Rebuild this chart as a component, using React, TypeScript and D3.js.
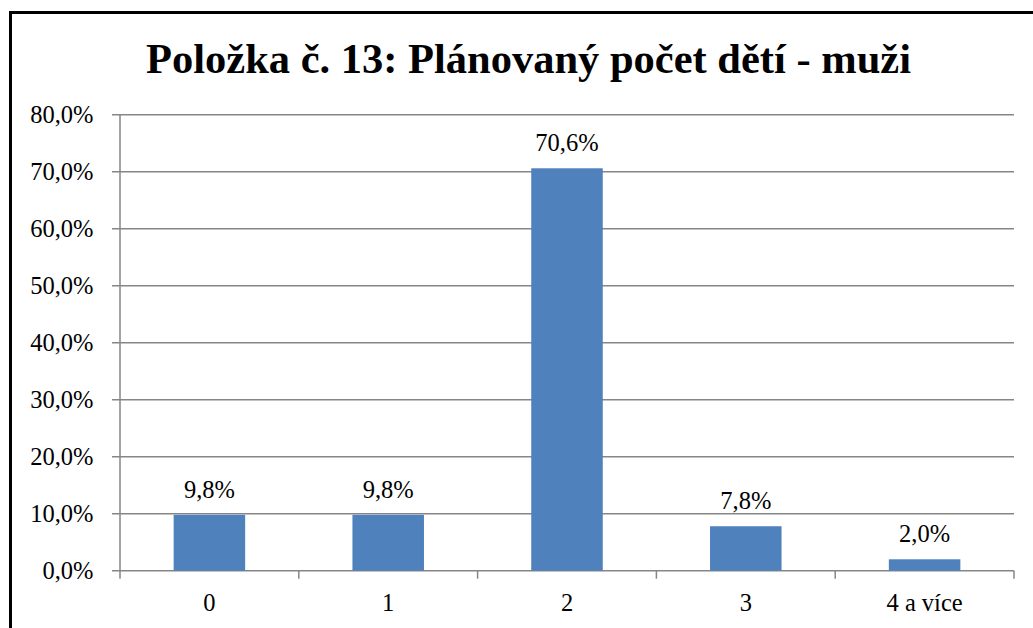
import React from "react";
import * as d3 from "d3";

const categories = ["0", "1", "2", "3", "4 a více"];
const values = [9.8, 9.8, 70.6, 7.8, 2.0];
const yTicks = [0, 10, 20, 30, 40, 50, 60, 70, 80];
const title = "Položka č. 13: Plánovaný počet dětí - muži";

const fmt = (v: number) => v.toFixed(1).replace(".", ",") + "%";

export default function App() {
  const W = 1033, H = 628;
  const left = 120, right = 1014, top = 114.7, bottom = 570.7;
  const x = d3.scaleBand<string>().domain(categories).range([left, right]).paddingInner(0.6).paddingOuter(0.3);
  const xb = d3.scaleBand<string>().domain(categories).range([left, right]);
  const y = d3.scaleLinear().domain([0, 80]).range([bottom, top]);
  const font = "'Liberation Serif', 'Times New Roman', serif";
  return (
    <svg width={W} height={H} style={{ position: "absolute", left: 0, top: 0, background: "#fff" }}>
      <rect x={0} y={0} width={W} height={H} fill="#fff" />
      <rect x={10.5} y={12.5} width={W + 20} height={H + 20} fill="none" stroke="#000" strokeWidth={3} />
      <text x={528.5} y={73} textAnchor="middle" fontFamily={font} fontWeight="bold" fontSize={42.5} fill="#000">
        {title}
      </text>
      {yTicks.map((t) => (
        <g key={t}>
          <line x1={left - 8} x2={right} y1={y(t)} y2={y(t)} stroke="#868686" strokeWidth={1.5} />
          <text x={93.5} y={y(t)} dy="0.35em" textAnchor="end" fontFamily={font} fontSize={24.5} fill="#000">
            {fmt(t)}
          </text>
        </g>
      ))}
      <line x1={left} x2={left} y1={top} y2={bottom} stroke="#868686" strokeWidth={1.5} />
      {categories.map((c, i) => (
        <line key={"t" + i} x1={xb(c)!} x2={xb(c)!} y1={bottom} y2={bottom + 8} stroke="#868686" strokeWidth={1.5} />
      ))}
      <line x1={right} x2={right} y1={bottom} y2={bottom + 8} stroke="#868686" strokeWidth={1.5} />
      {categories.map((c, i) => (
        <g key={c}>
          <rect x={x(c)!} y={y(values[i])} width={x.bandwidth()} height={bottom - y(values[i])} fill="#4F81BD" />
          <text x={x(c)! + x.bandwidth() / 2} y={y(values[i]) - 17} textAnchor="middle" fontFamily={font} fontSize={24.5} fill="#000">
            {fmt(values[i])}
          </text>
          <text x={xb(c)! + xb.bandwidth() / 2} y={611} textAnchor="middle" fontFamily={font} fontSize={24.5} fill="#000">
            {c}
          </text>
        </g>
      ))}
    </svg>
  );
}
